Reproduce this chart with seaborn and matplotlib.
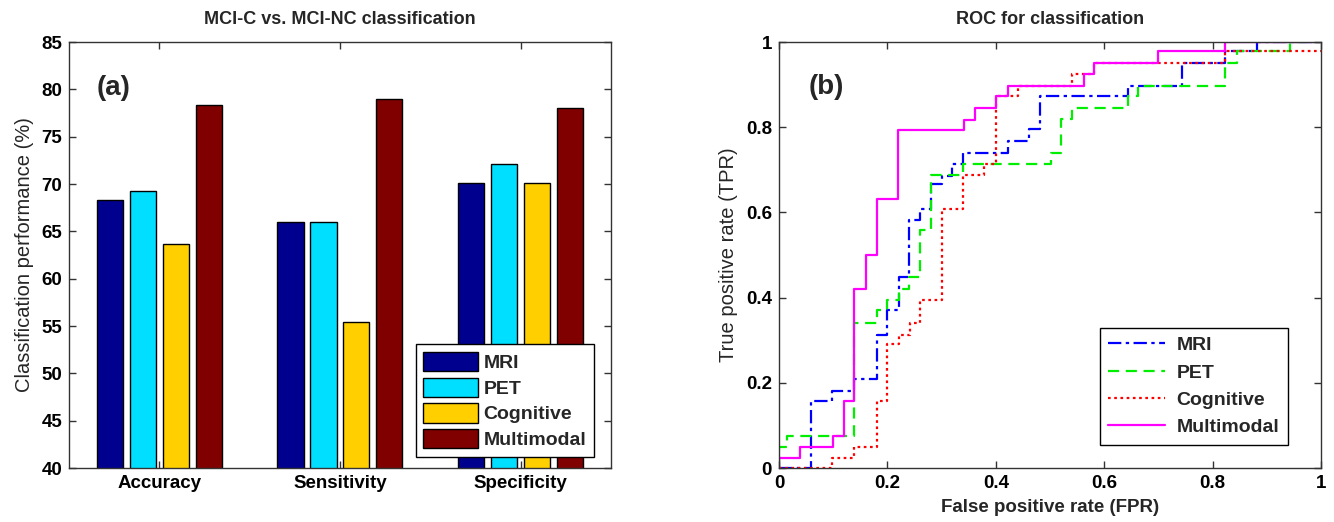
import matplotlib
matplotlib.use("Agg")
import matplotlib.pyplot as plt
import pandas as pd
import seaborn as sns

# ---- classification performance (%) per measure ----
metrics = ["Accuracy", "Sensitivity", "Specificity"]
modalities = ["MRI", "PET", "Cognitive", "Multimodal"]
mri_perf = [68.3, 66.0, 70.1]
pet_perf = [69.3, 66.0, 72.1]
cog_perf = [63.7, 55.4, 70.1]
multi_perf = [78.4, 79.0, 78.0]

# ---- ROC step curves: FPR breakpoints and the TPR held from each onward ----
mri_fpr = [0, 0.059, 0.098, 0.138, 0.18, 0.199, 0.221, 0.24, 0.26, 0.28, 0.301,
           0.32, 0.34, 0.422, 0.462, 0.482, 0.643, 0.743, 0.822, 0.881, 1.0]
mri_tpr = [0, 0.157, 0.18, 0.208, 0.313, 0.371, 0.448, 0.582, 0.607, 0.666, 0.686,
           0.713, 0.739, 0.767, 0.795, 0.873, 0.897, 0.951, 0.978, 1.0, 1.0]

pet_fpr = [0, 0, 0.014, 0.138, 0.18, 0.199, 0.221, 0.24, 0.26, 0.28, 0.34,
           0.502, 0.52, 0.54, 0.643, 0.662, 0.822, 0.844, 0.943, 1.0]
pet_tpr = [0, 0.05, 0.076, 0.341, 0.371, 0.394, 0.42, 0.448, 0.558, 0.688, 0.713,
           0.739, 0.819, 0.845, 0.874, 0.897, 0.951, 0.978, 1.0, 1.0]

cog_fpr = [0, 0.098, 0.138, 0.18, 0.199, 0.221, 0.241, 0.26, 0.301, 0.34, 0.378,
           0.401, 0.44, 0.54, 0.581, 0.822, 1.0]
cog_tpr = [0, 0.024, 0.05, 0.158, 0.29, 0.313, 0.341, 0.394, 0.607, 0.688, 0.713,
           0.873, 0.897, 0.924, 0.951, 0.978, 0.978]

multi_fpr = [0, 0, 0.039, 0.099, 0.119, 0.138, 0.16, 0.18, 0.22, 0.341, 0.361,
             0.401, 0.422, 0.562, 0.581, 0.70, 0.822, 1.0]
multi_tpr = [0, 0.023, 0.05, 0.076, 0.158, 0.42, 0.50, 0.632, 0.794, 0.818, 0.845,
             0.873, 0.897, 0.924, 0.951, 0.978, 1.0, 1.0]

bar_colors = ["#00008F", "#00DFFF", "#FFCF00", "#800000"]

sns.set_style("ticks")
plt.rcParams["font.family"] = ["Liberation Sans", "DejaVu Sans"]
plt.rcParams["axes.linewidth"] = 1.0
plt.rcParams["axes.edgecolor"] = "#333333"

fig = plt.figure(figsize=(13.34, 5.22), dpi=100)
ax1 = fig.add_axes([0.0517, 0.1034, 0.4063, 0.8161])
ax2 = fig.add_axes([0.5840, 0.1034, 0.4063, 0.8161])

TICK_FS = 13.5
LABEL_FS = 14.5


def style_axes(ax):
    ax.tick_params(direction="in", top=True, right=True, length=5, width=1, pad=5,
                   labelsize=TICK_FS, colors="#333333", labelcolor="black")
    for lbl in ax.get_xticklabels() + ax.get_yticklabels():
        lbl.set_fontweight("bold")
    for sp in ax.spines.values():
        sp.set_visible(True)


# ---------------- (a) grouped bars ----------------
perf = pd.DataFrame({
    "metric": metrics * 4,
    "modality": [m for m in modalities for _ in metrics],
    "value": mri_perf + pet_perf + cog_perf + multi_perf,
})
sns.barplot(data=perf, x="metric", y="value", hue="modality", order=metrics,
            hue_order=modalities, palette=bar_colors, width=0.73, gap=0.21,
            edgecolor="black", linewidth=1.0, saturation=1, ax=ax1)
ax1.set_ylim(40, 85)
ax1.set_yticks(range(40, 86, 5))
ax1.set_xlim(-0.5, 2.5)
ax1.set_xlabel("")
ax1.set_ylabel("Classification performance (%)", fontsize=LABEL_FS, labelpad=5)
ax1.set_title("MCI-C vs. MCI-NC classification", fontsize=13, fontweight="bold", pad=13)
ax1.text(-0.345, 80.1, "(a)", fontsize=20, fontweight="bold", ha="left", va="center")
handles, labels = ax1.get_legend_handles_labels()
leg1 = ax1.legend(handles, labels, loc="lower right", bbox_to_anchor=(0.969, 0.026),
                  fontsize=14, frameon=True, fancybox=False, edgecolor="black",
                  framealpha=1, handlelength=2.8, handleheight=1.15, labelspacing=0.28,
                  handletextpad=0.3, borderpad=0.4, borderaxespad=0)
leg1.get_frame().set_linewidth(1.0)
for t in leg1.get_texts():
    t.set_fontweight("bold")
style_axes(ax1)

# ---------------- (b) ROC curves ----------------
roc_series = [
    ("MRI", mri_fpr, mri_tpr, "#0000FF", (0, (6, 2, 1.5, 2))),
    ("PET", pet_fpr, pet_tpr, "#00EE00", (0, (5, 3))),
    ("Cognitive", cog_fpr, cog_tpr, "#FF0000", (0, (1.2, 1.6))),
    ("Multimodal", multi_fpr, multi_tpr, "#FF00FF", "-"),
]
for name, fpr, tpr, col, ls in roc_series:
    sns.lineplot(x=fpr, y=tpr, sort=False, estimator=None, color=col, linewidth=1.6,
                 linestyle=ls, drawstyle="steps-post", label=name, ax=ax2)

ax2.set_xlim(0, 1)
ax2.set_ylim(0, 1)
ticks = [0, 0.2, 0.4, 0.6, 0.8, 1.0]
tick_labels = ["0", "0.2", "0.4", "0.6", "0.8", "1"]
ax2.set_xticks(ticks, tick_labels)
ax2.set_yticks(ticks, tick_labels)
ax2.set_xlabel("False positive rate (FPR)", fontsize=13.5, fontweight="bold", labelpad=5)
ax2.set_ylabel("True positive rate (TPR)", fontsize=LABEL_FS, labelpad=6)
ax2.set_title("ROC for classification", fontsize=13, fontweight="bold", pad=13)
ax2.text(0.054, 0.895, "(b)", fontsize=20, fontweight="bold", ha="left", va="center")
leg2 = ax2.legend(loc="lower right", bbox_to_anchor=(0.939, 0.054), fontsize=14,
                  frameon=True, fancybox=False, edgecolor="black", framealpha=1,
                  handlelength=2.9, labelspacing=0.5, handletextpad=0.6,
                  borderpad=0.45, borderaxespad=0)
leg2.get_frame().set_linewidth(1.0)
for t in leg2.get_texts():
    t.set_fontweight("bold")
style_axes(ax2)

fig.savefig("out.png", dpi=100)
